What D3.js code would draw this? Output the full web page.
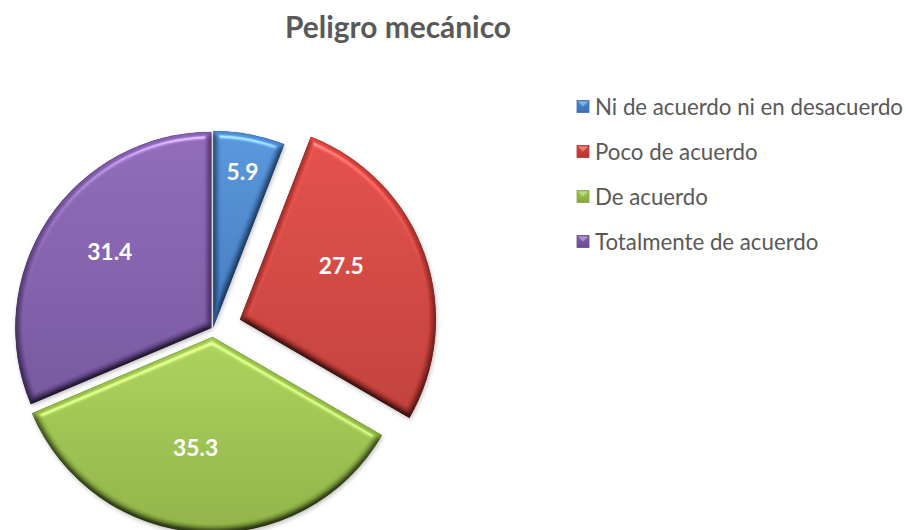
<!DOCTYPE html>
<html lang="es">
<head>
<meta charset="UTF-8"/>
<title>Peligro mecánico</title>
<style>
  * { margin: 0; padding: 0; box-sizing: border-box; }
  body { background: #fff; width: 906px; height: 530px; overflow: hidden; }
  svg { display: block; }
  text { font-family: Lato, "Open Sans", sans-serif; }
</style>
</head>
<body>
<div id="chart"></div>
<script src="https://cdn.jsdelivr.net/npm/d3@7/dist/d3.min.js"></script>
<script>
// --- data ---
const title      = 'Peligro mecánico'
const categories = ['Ni de acuerdo ni en desacuerdo', 'Poco de acuerdo', 'De acuerdo', 'Totalmente de acuerdo']
const values     = [5.9, 27.5, 35.3, 31.4]

// --- style ---
const colorTop    = ['#4d8ad0', '#d9443f', '#a0c750', '#855fae']
const colorBottom = ['#3a6fb2', '#b43530', '#84a73d', '#6a4c93']
const explode     = [2, 28.5, 8, 2]          // px each slice is pulled out
const labelDist   = [158, 115, 112, 127]     // label distance from slice apex
const labelFrac   = [0.5, 0.41, 0.54, 0.53]  // where along the slice angle the label sits

const W = 906, H = 530
const cx = 213, cy = 329, R = 196

const svg = d3.select('#chart').append('svg')
  .attr('width', W).attr('height', H)

const defs = svg.append('defs')

// soft bevel like Excel's 3-D format: highlight only where the blurred edge tilts to the light
const bevel = defs.append('filter').attr('id', 'bevel')
  .attr('color-interpolation-filters', 'sRGB')
  .attr('x', '-10%').attr('y', '-10%').attr('width', '120%').attr('height', '120%')
bevel.append('feGaussianBlur').attr('in', 'SourceAlpha').attr('stdDeviation', 3).attr('result', 'blur')
const spec = bevel.append('feSpecularLighting')
  .attr('in', 'blur').attr('surfaceScale', 5).attr('specularConstant', 0.6)
  .attr('specularExponent', 40).attr('lighting-color', '#ffffff').attr('result', 'spec')
spec.append('feDistantLight').attr('azimuth', 270).attr('elevation', 55)
bevel.append('feComposite').attr('in', 'spec').attr('in2', 'SourceAlpha').attr('operator', 'in').attr('result', 'specOut')
// darken edges facing away from the light
const diff = bevel.append('feDiffuseLighting')
  .attr('in', 'blur').attr('surfaceScale', 5).attr('diffuseConstant', 1)
  .attr('lighting-color', '#ffffff').attr('result', 'diff')
diff.append('feDistantLight').attr('azimuth', 270).attr('elevation', 65)
bevel.append('feComposite').attr('in', 'SourceGraphic').attr('in2', 'diff')
  .attr('operator', 'arithmetic').attr('k1', 1.1).attr('k2', 0).attr('k3', 0).attr('k4', 0).attr('result', 'shaded')
bevel.append('feComposite').attr('in', 'shaded').attr('in2', 'specOut')
  .attr('operator', 'arithmetic').attr('k1', 0).attr('k2', 1).attr('k3', 0.6).attr('k4', 0).attr('result', 'lit')
bevel.append('feComposite').attr('in', 'lit').attr('in2', 'SourceAlpha').attr('operator', 'in')

const shadow = defs.append('filter').attr('id', 'shadow')
  .attr('color-interpolation-filters', 'sRGB')
  .attr('x', '-10%').attr('y', '-10%').attr('width', '120%').attr('height', '120%')
shadow.append('feDropShadow').attr('dx', 1).attr('dy', 2).attr('stdDeviation', 2)
  .attr('flood-color', '#000').attr('flood-opacity', 0.25)

values.forEach((v, i) => {
  const g = defs.append('linearGradient').attr('id', 'grad' + i)
    .attr('x1', 0).attr('y1', 0).attr('x2', 0).attr('y2', 1)
  g.append('stop').attr('offset', '0%').attr('stop-color', colorTop[i])
  g.append('stop').attr('offset', '100%').attr('stop-color', colorBottom[i])
})

// --- title ---
function fitText(sel, targetWidth) {
  const w = sel.node().getComputedTextLength()
  const fs = parseFloat(sel.attr('font-size'))
  sel.attr('font-size', (fs * targetWidth / w).toFixed(2))
}

svg.append('text')
  .attr('x', 398).attr('y', 38)
  .attr('text-anchor', 'middle')
  .attr('font-size', 22).attr('font-weight', 700)
  .attr('fill', '#595959')
  .text(title)
  .call(fitText, 226)

// --- pie ---
const pie = d3.pie().sort(null).value(d => d)(values)
const arc = d3.arc().innerRadius(0).outerRadius(R)

const slices = svg.append('g').selectAll('g')
  .data(pie)
  .join('g')
    .attr('transform', (d, i) => {
      const mid = (d.startAngle + d.endAngle) / 2
      return `translate(${cx + explode[i] * Math.sin(mid)},${cy - explode[i] * Math.cos(mid)})`
    })

slices.append('path')
  .attr('d', arc)
  .attr('fill', (d, i) => colorBottom[i])
  .attr('filter', 'url(#shadow)')

slices.append('path')
  .attr('d', arc)
  .attr('fill', (d, i) => `url(#grad${i})`)
  .attr('stroke', (d, i) => colorBottom[i])
  .attr('stroke-opacity', 0.6)
  .attr('stroke-width', 0.8)
  .attr('filter', 'url(#bevel)')

const labelAngle = (d, i) => d.startAngle + labelFrac[i] * (d.endAngle - d.startAngle)

const labels = slices.append('text')
  .attr('x', (d, i) => labelDist[i] * Math.sin(labelAngle(d, i)))
  .attr('y', (d, i) => -labelDist[i] * Math.cos(labelAngle(d, i)))
  .attr('text-anchor', 'middle')
  .attr('dominant-baseline', 'central')
  .attr('font-size', 20).attr('font-weight', 700)
  .attr('fill', '#fff')
  .text(d => d3.format('.1f')(d.data))

// size the labels so "27.5" spans about 45px
const probe = labels.filter((d, i) => i === 1)
const labelSize = 20 * 45 / probe.node().getComputedTextLength()
labels.attr('font-size', labelSize.toFixed(2))

// --- legend ---
const legendX = 577
const legendY = [106.5, 151.5, 196.5, 241.5]

const legend = svg.append('g').selectAll('g')
  .data(categories)
  .join('g')
    .attr('transform', (d, i) => `translate(${legendX},${legendY[i]})`)

legend.append('rect')
  .attr('x', 0).attr('y', -6).attr('width', 12).attr('height', 12)
  .attr('fill', (d, i) => `url(#grad${i})`)
  .attr('stroke', (d, i) => colorBottom[i])
  .attr('stroke-width', 0.8)

// light bevel triangle on the marker top
legend.append('path')
  .attr('d', 'M1,-5 L11,-5 L6,0 Z')
  .attr('fill', '#fff').attr('fill-opacity', 0.35)

const legendText = legend.append('text')
  .attr('x', 18).attr('y', 0)
  .attr('dominant-baseline', 'central')
  .attr('font-size', 19)
  .attr('fill', '#595959')
  .text(d => d)

const longest = legendText.filter((d, i) => i === 0)
const legendSize = 19 * 308 / longest.node().getComputedTextLength()
legendText.attr('font-size', legendSize.toFixed(2))
</script>
</body>
</html>
